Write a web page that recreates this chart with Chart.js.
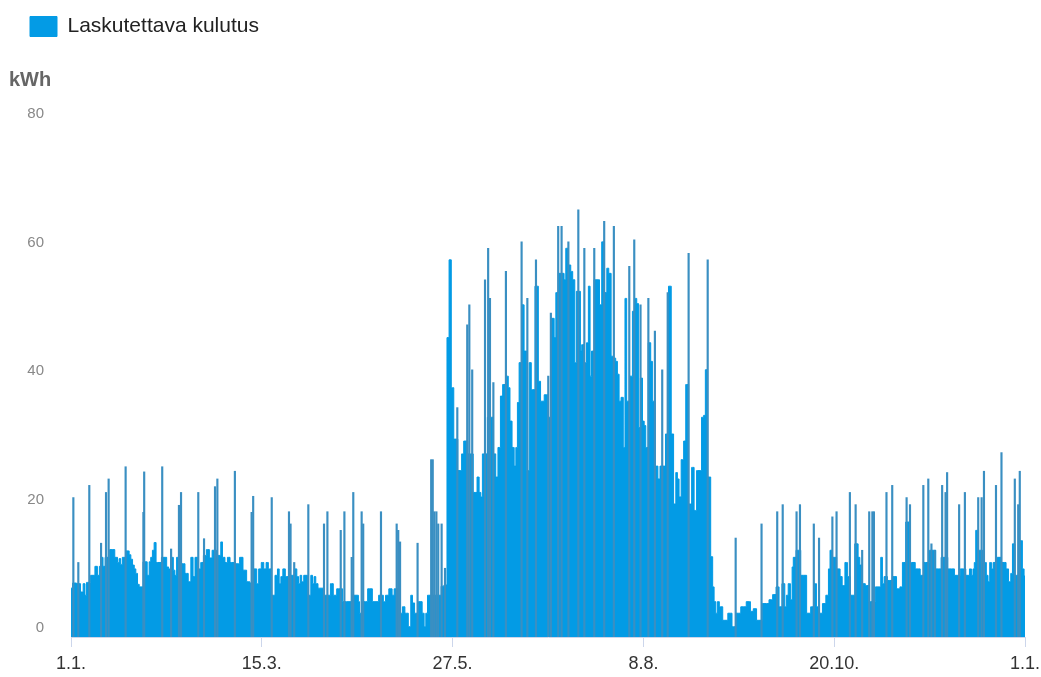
<!DOCTYPE html>
<html>
<head>
<meta charset="utf-8">
<script src="https://cdn.jsdelivr.net/npm/chart.js@4.4.1/dist/chart.umd.min.js"></script>
<style>
  html, body { margin: 0; padding: 0; background: #fff; }
  canvas { display: block; }
</style>
</head>
<body>
<canvas id="kulutusChart" width="1041" height="677"></canvas>
<script>
// x = day of year (0 = 1.1.), y = kWh
const tickDay = [0, 73, 146, 219, 292, 365];
const tickLabel = ["1.1.", "15.3.", "27.5.", "8.8.", "20.10.", "1.1."];

// daily base level of consumption
const baseDay = [
  0, 1.2, 3.0, 4.3, 5.0, 5.7, 6.2, 8.8, 9.5, 10.7, 11.0, 12.0, 12.5, 13.6, 16.0, 17.5, 18.1, 18.7, 19.3, 20.0,
  21.9, 22.6, 23.2, 23.9, 24.5, 25.1, 25.8, 26.4, 28.7, 29.6, 30.2, 30.8, 31.5, 32.1, 33.0, 36.2, 37.0, 37.7, 38.8, 39.5,
  40.0, 40.8, 43.0, 44.2, 45.5, 46.2, 47.2, 47.7, 49.3, 50.0, 51.3, 52.3, 53.6, 54.4, 57.0, 57.6, 58.3, 59.5, 60.2, 61.5,
  64.0, 65.0, 66.6, 67.8, 69.0, 70.8, 71.3, 72.3, 73.3, 74.2, 75.1, 75.9, 77.4, 78.7, 79.3, 80.0, 80.6, 81.5, 82.5, 84.8,
  86.1, 86.7, 87.4, 87.9, 88.6, 89.5, 91.4, 92.1, 92.7, 93.3, 94.0, 95.0, 98.8, 99.7, 101.0, 102.3, 105.5, 109.7, 110.2, 110.6,
  112.7, 114.3, 116.3, 119.1, 119.9, 120.8, 122.4, 123.3, 124.0, 126.5, 127.1, 128.4, 129.7, 130.3, 131.0, 131.9, 133.9, 134.8, 135.4, 136.1,
  136.7, 141.2, 142.0, 143.4, 144.3, 145.0, 146.0, 146.9, 149.1, 149.8, 150.7, 152.9, 154.9, 155.8, 156.5, 157.1, 157.7, 160.9, 162.2, 162.8,
  163.9, 164.7, 165.6, 167.0, 167.6, 168.3, 169.2, 169.9, 170.5, 171.1, 171.8, 173.0, 173.7, 175.0, 175.6, 176.6, 178.4, 179.2, 180.1, 182.0,
  183.0, 184.5, 185.2, 185.8, 187.1, 188.3, 189.0, 189.6, 190.9, 191.5, 192.4, 193.1, 193.6, 194.7, 195.1, 195.7, 196.9, 197.6, 198.3, 198.9,
  199.4, 200.8, 201.7, 202.7, 203.4, 204.7, 205.3, 206.2, 207.1, 208.1, 208.7, 209.4, 210.0, 210.9, 211.7, 212.2, 213.0, 214.5, 215.1, 216.1,
  216.8, 217.4, 218.3, 219.0, 219.6, 220.2, 221.5, 222.1, 222.8, 224.0, 225.1, 225.6, 227.0, 227.9, 229.3, 230.0, 231.1, 231.7, 232.3, 233.0,
  233.9, 234.9, 235.5, 237.1, 237.8, 239.0, 239.7, 240.9, 241.6, 242.5, 242.9, 244.2, 245.3, 245.7, 246.4, 247.0, 247.6, 248.5, 250.2, 252.4,
  253.4, 255.3, 257.2, 259.5, 260.4, 261.7, 262.9, 266.1, 268.0, 268.9, 270.6, 271.2, 272.8, 273.4, 274.0, 274.8, 275.7, 276.1, 276.6, 278.2,
  280.2, 282.7, 283.3, 284.9, 285.5, 286.9, 288.1, 289.5, 290.1, 290.7, 292.0, 293.9, 294.6, 295.5, 296.7, 297.4, 298.9, 300.8, 301.5, 302.1,
  303.4, 304.4, 306.0, 309.5, 310.1, 310.8, 311.4, 313.3, 315.2, 316.5, 317.8, 318.4, 320.3, 321.6, 324.4, 325.4, 327.0, 329.9, 331.8, 334.0,
  336.9, 339.1, 341.4, 343.3, 344.2, 344.8, 345.4, 345.8, 346.5, 347.7, 349.9, 350.5, 351.2, 351.8, 352.5, 353.1, 354.5, 357.3, 358.2, 359.2,
  359.9, 360.5, 361.8, 363.7, 364.3, 365
];
const baseKwh = [
  7.6, 8.4, 8.3, 7.0, 8.3, 6.5, 8.5, 9.6, 11.0, 9.6, 11.0, 12.4, 11.0, 12.4, 13.6, 12.4, 11.6, 12.2, 11.3, 12.4,
  13.4, 12.8, 12.1, 11.2, 10.6, 9.9, 8.2, 7.8, 11.7, 9.6, 11.7, 12.4, 13.5, 14.7, 11.6, 12.4, 10.9, 10.6, 12.4, 10.4,
  9.6, 12.4, 11.4, 9.9, 8.6, 12.4, 9.4, 12.4, 10.6, 11.6, 12.7, 13.6, 12.3, 13.5, 12.7, 14.8, 12.4, 11.6, 12.4, 11.6,
  11.4, 12.4, 10.4, 8.6, 8.4, 10.6, 8.3, 10.6, 11.6, 10.6, 11.6, 10.6, 6.5, 9.6, 10.6, 8.3, 9.4, 10.6, 9.4, 9.6,
  10.6, 9.4, 8.3, 9.6, 8.6, 9.6, 6.5, 9.6, 8.3, 9.4, 8.3, 7.6, 6.5, 8.3, 6.5, 7.5, 5.5, 6.5, 5.5, 3.7,
  5.5, 7.5, 5.5, 6.5, 5.5, 6.5, 7.5, 6.5, 7.5, 3.7, 4.7, 3.7, 1.6, 6.5, 5.3, 3.7, 5.5, 3.7, 1.6, 3.7,
  6.5, 6.5, 7.9, 8.1, 46.6, 58.7, 38.8, 30.8, 25.9, 28.5, 30.5, 28.5, 22.5, 24.9, 22.5, 21.8, 28.5, 34.2, 28.5, 24.9,
  29.5, 37.5, 39.3, 40.6, 38.8, 33.6, 29.5, 26.6, 29.5, 36.5, 42.7, 51.7, 44.5, 25.9, 42.7, 38.5, 54.6, 39.8, 36.7, 37.7,
  34.2, 49.6, 46.6, 53.6, 56.6, 56.6, 55.6, 60.5, 57.9, 56.9, 55.6, 42.7, 53.8, 53.8, 44.5, 45.5, 42.7, 45.8, 54.6, 40.6,
  44.5, 55.6, 55.6, 51.7, 61.5, 53.6, 57.4, 56.6, 43.7, 43.4, 42.9, 40.9, 36.7, 37.3, 29.5, 52.7, 36.7, 40.6, 50.7, 52.7,
  51.9, 32.6, 40.3, 33.6, 32.9, 29.5, 45.8, 42.9, 36.7, 26.6, 24.6, 26.6, 26.6, 31.6, 54.6, 31.6, 20.7, 25.6, 24.6, 21.8,
  27.6, 30.5, 39.3, 20.7, 26.4, 19.7, 25.9, 25.9, 34.2, 34.5, 41.6, 24.9, 12.5, 7.8, 5.5, 3.7, 5.5, 4.7, 2.6, 3.7,
  1.6, 3.7, 4.7, 5.5, 4.0, 4.4, 2.6, 5.2, 5.8, 6.6, 7.8, 4.7, 8.3, 4.7, 6.5, 8.3, 5.8, 10.9, 12.4, 13.5,
  9.6, 3.7, 4.7, 8.3, 4.7, 3.7, 5.2, 6.5, 10.6, 13.5, 12.4, 10.6, 9.4, 8.0, 11.6, 9.4, 6.5, 14.5, 12.4, 11.2,
  8.3, 8.0, 5.5, 7.8, 12.4, 8.3, 9.4, 8.8, 9.4, 7.5, 7.8, 11.6, 17.9, 11.6, 10.6, 9.6, 11.6, 13.5, 10.6, 12.4,
  10.6, 9.6, 10.6, 9.6, 10.6, 9.6, 10.6, 11.6, 16.6, 13.5, 11.6, 9.6, 8.6, 11.6, 10.6, 11.6, 12.4, 11.6, 10.6, 8.6,
  9.9, 14.5, 9.6, 15.0, 10.6, 9.5
];

// hourly peaks standing out of the base level
const peakDay = [
  0.9, 2.8, 7.0, 11.5, 13.4, 14.4, 20.9, 27.7, 28.0, 34.9, 38.3, 41.3, 42.1, 48.7, 50.9, 55.1, 56.0, 62.7, 69.1, 69.7,
  76.8, 83.4, 84.0, 85.4, 90.8, 96.8, 98.1, 103.2, 104.6, 107.4, 108.0, 111.2, 111.8, 118.6, 124.6, 125.2, 125.9, 132.6, 137.8, 138.4,
  139.0, 139.8, 140.5, 141.8, 143.1, 147.8, 151.6, 152.4, 153.5, 158.4, 159.6, 160.3, 161.6, 166.4, 172.4, 174.6, 177.9, 182.6, 183.6, 186.4,
  187.7, 190.3, 194.1, 196.4, 200.2, 204.0, 207.7, 213.6, 215.5, 217.9, 220.9, 223.4, 226.2, 228.3, 236.3, 243.6, 254.3, 264.2, 270.2, 272.3,
  277.6, 278.9, 284.2, 286.2, 291.3, 292.9, 298.0, 300.2, 302.7, 305.4, 306.6, 307.2, 312.0, 314.2, 319.7, 321.0, 326.1, 328.0, 329.2, 330.5,
  333.3, 334.6, 335.2, 339.8, 342.0, 347.1, 348.4, 349.3, 353.9, 356.0, 361.1, 362.4, 363.0
];
const peakKwh = [
  21.7, 11.6, 23.6, 14.6, 22.5, 24.6, 26.5, 19.4, 25.7, 26.5, 13.7, 20.5, 22.5, 22.5, 15.3, 23.4, 24.6, 25.8, 19.4, 21.9,
  21.7, 19.5, 17.6, 11.6, 20.6, 17.6, 19.5, 16.6, 19.5, 12.4, 22.5, 19.5, 17.6, 19.5, 17.6, 16.6, 14.8, 14.6, 27.6, 27.6,
  19.5, 19.5, 17.6, 17.6, 10.7, 35.7, 48.6, 51.7, 41.6, 55.6, 60.5, 52.7, 39.6, 56.9, 61.5, 52.7, 58.7, 40.6, 50.4, 63.9,
  63.9, 61.5, 66.5, 60.5, 60.5, 64.7, 63.9, 57.7, 61.8, 51.7, 52.7, 47.6, 41.6, 53.6, 59.7, 58.7, 15.4, 17.6, 19.5, 20.6,
  19.5, 20.6, 17.6, 15.4, 18.7, 19.5, 22.5, 20.6, 13.5, 19.5, 19.5, 19.5, 22.5, 23.6, 21.7, 20.6, 23.6, 24.6, 14.5, 13.5,
  23.6, 22.5, 25.6, 20.6, 22.5, 21.7, 21.7, 25.8, 23.6, 28.7, 24.6, 20.6, 25.8
];

const fillColor = "#039be5";
const peakColor = "#3a8fc2";

const basePoints = baseDay.map((d, i) => ({ x: d, y: baseKwh[i] }));
const peakPoints = peakDay.map((d, i) => ({ x: d, y: peakKwh[i] }));

// make room between legend and plot (legend sits at the very top)
const legendSpace = {
  id: "legendSpace",
  beforeInit(chart) {
    const fit = chart.legend.fit;
    chart.legend.fit = function () {
      fit.bind(chart.legend)();
      this.height = 115;
    };
  },
};

// horizontal unit title above the y axis
const unitTitle = {
  id: "unitTitle",
  afterDraw(chart) {
    const c = chart.ctx;
    c.save();
    c.font = "bold 20px 'Liberation Sans', Arial, sans-serif";
    c.fillStyle = "#666";
    c.textAlign = "left";
    c.textBaseline = "middle";
    c.fillText("kWh", 9, 80);
    c.restore();
  },
};

const ctx = document.getElementById("kulutusChart").getContext("2d");

const chart = new Chart(ctx, {
  data: {
    datasets: [
      {
        type: "line",
        label: "Laskutettava kulutus",
        data: basePoints,
        stepped: "middle",
        fill: "origin",
        backgroundColor: fillColor,
        borderColor: fillColor,
        borderWidth: 1,
        pointRadius: 0,
        order: 1,
      },
      {
        type: "bar",
        label: "huiput",
        data: peakPoints,
        backgroundColor: peakColor,
        barThickness: 1.5,
        order: 0,
      },
    ],
  },
  options: {
    responsive: false,
    animation: false,
    devicePixelRatio: 1,
    layout: { padding: { left: 22, top: 8, right: 16, bottom: 0 } },
    scales: {
      x: {
        type: "linear",
        min: 0,
        max: 365,
        offset: false,
        afterBuildTicks: (axis) => {
          axis.ticks = tickDay.map((v) => ({ value: v }));
        },
        afterFit: (axis) => {
          axis.height = 40;
          axis.paddingLeft = 0;
          axis.paddingRight = 0;
        },
        grid: {
          offset: false,
          drawOnChartArea: false,
          drawTicks: true,
          tickLength: 10,
          color: "#ccd6eb",
        },
        border: { display: true, color: "#ccd6eb" },
        ticks: {
          autoSkip: false,
          maxRotation: 0,
          padding: 6,
          color: "#333",
          font: { size: 18, family: "'Liberation Sans', Arial, sans-serif" },
          callback: (value, index) => tickLabel[index],
        },
      },
      y: {
        min: 0,
        max: 80,
        afterFit: (axis) => {
          axis.width = 49;
        },
        grid: { display: false, drawTicks: false },
        border: { display: false },
        ticks: {
          stepSize: 20,
          padding: 27,
          labelOffset: -9,
          color: "#888",
          font: { size: 15, family: "'Liberation Sans', Arial, sans-serif" },
        },
      },
    },
    plugins: {
      legend: {
        position: "top",
        align: "start",
        labels: {
          boxWidth: 27,
          boxHeight: 20,
          padding: 8,
          color: "#222",
          font: { size: 21, family: "'Liberation Sans', Arial, sans-serif" },
          filter: (item) => item.datasetIndex === 0,
        },
      },
      tooltip: { enabled: false },
    },
  },
  plugins: [legendSpace, unitTitle],
});
</script>
</body>
</html>
